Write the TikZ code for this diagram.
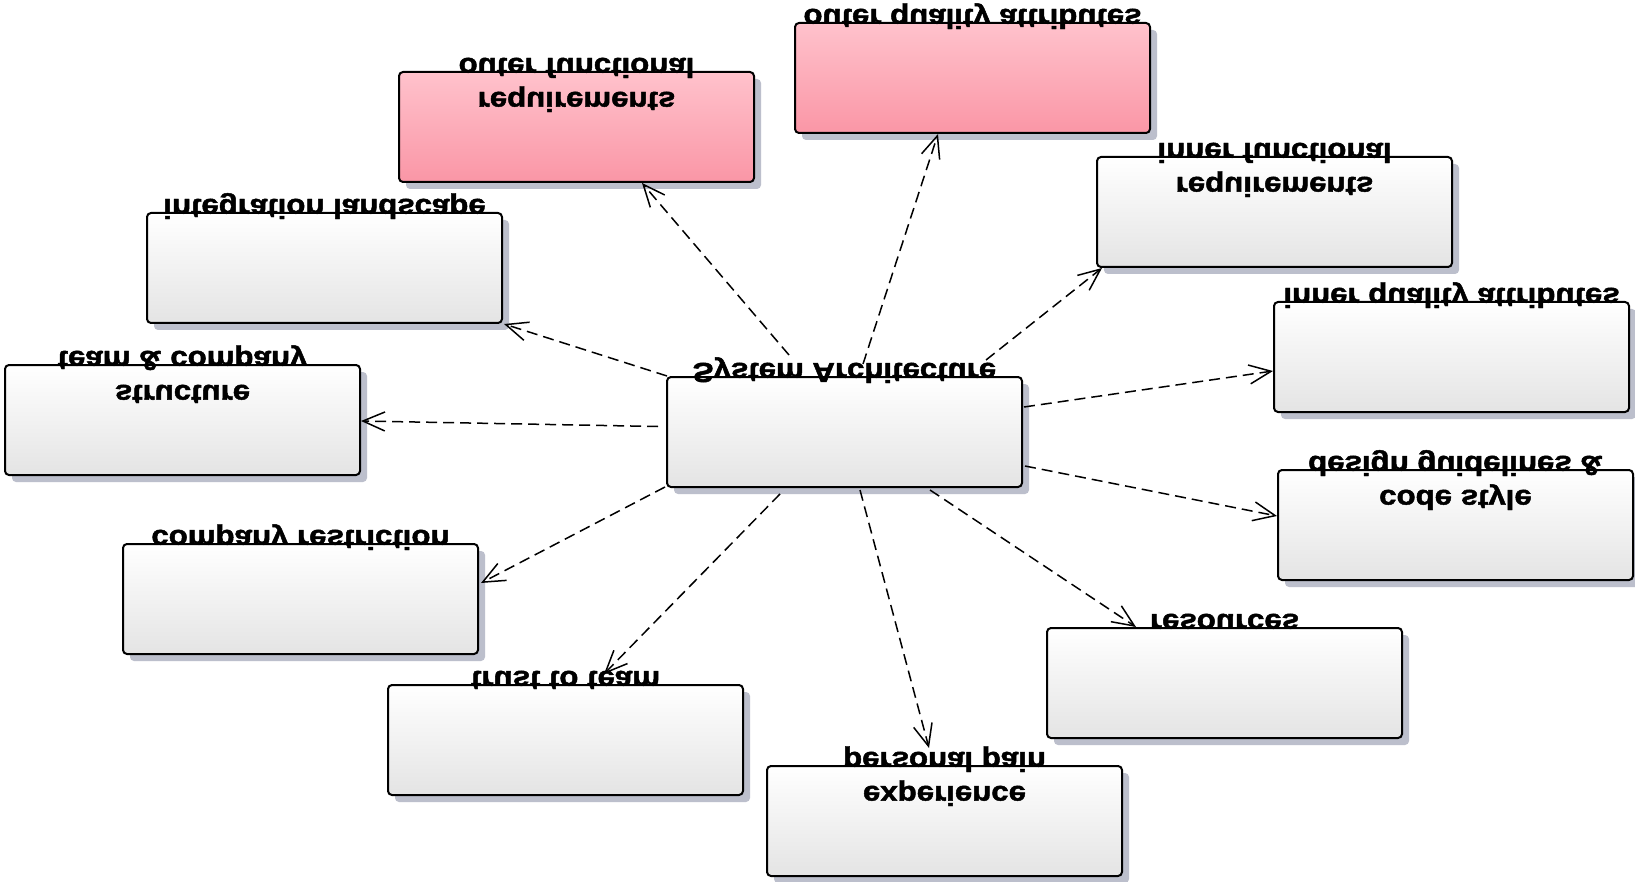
\documentclass[tikz,border=0pt]{standalone}
\usepackage{fontspec}
\setmainfont{Liberation Sans}
\newfontfamily\heavyfont{Liberation Sans Bold}[FakeBold=1.6]
\usetikzlibrary{arrows.meta,shadows}

\definecolor{shadowc}{RGB}{188,191,204}
\definecolor{pinktop}{RGB}{255,194,204}
\definecolor{pinkbot}{RGB}{250,150,166}
\definecolor{greybot}{RGB}{228,228,228}

% labels are printed upside down, line by line
\newcommand\fliptext[1]{\scalebox{1.04}[-0.92]{#1}}

\tikzset{
  box/.style={draw, line width=2pt, rounded corners=4pt,
    minimum width=355pt, minimum height=110pt, inner sep=0pt,
    top color=white, bottom color=greybot,
    drop shadow={shadow xshift=7pt, shadow yshift=-7pt, fill=shadowc, opacity=1}},
  reqbox/.style={box, top color=pinktop, bottom color=pinkbot},
  lbl/.style={anchor=base, inner sep=0pt, font=\fontsize{30}{36}\heavyfont},
  dep/.style={draw, line width=1.5pt, dash pattern=on 11pt off 6pt,
    -{Straight Barb[length=22pt, width=19pt, line width=1.5pt]}}
}

\begin{document}
\begin{tikzpicture}[x=1pt, y=-1pt]
  \fill[white] (0,0) rectangle (1635,882);
  \useasboundingbox (0,0) rectangle (1635,882);

  % boxes
  \node[reqbox] (fr) at (576.5,127) {};
  \node[reqbox] (oq) at (972.5,78) {};
  \node[box] (if) at (1274.5,212) {};
  \node[box] (il) at (324.5,268) {};
  \node[box] (tc) at (182.5,420) {};
  \node[box] (sa) at (844.5,432) {};
  \node[box] (iq) at (1451.5,357) {};
  \node[box] (dg) at (1455.5,525) {};
  \node[box] (cr) at (300.5,599) {};
  \node[box] (rs) at (1224.5,683) {};
  \node[box] (tt) at (565.5,740) {};
  \node[box] (pp) at (944.5,821) {};

  % labels, first line straddling the top edge
  \node[lbl] (fr-a) at ([yshift=13pt]fr.north) {\fliptext{outer functional}};
  \node[lbl] (fr-b) at ([yshift=-21pt]fr.north) {\fliptext{requirements}};
  \node[lbl] (oq-a) at ([yshift=13pt]oq.north) {\fliptext{outer quality attributes}};
  \node[lbl] (if-a) at ([yshift=13pt]if.north) {\fliptext{inner functional}};
  \node[lbl] (if-b) at ([yshift=-21pt]if.north) {\fliptext{requirements}};
  \node[lbl] (il-a) at ([yshift=13pt]il.north) {\fliptext{integration landscape}};
  \node[lbl] (tc-a) at ([yshift=13pt]tc.north) {\fliptext{team \& company}};
  \node[lbl] (tc-b) at ([yshift=-21pt]tc.north) {\fliptext{structure}};
  \node[lbl] (sa-a) at ([yshift=13pt]sa.north) {\fliptext{System Architecture}};
  \node[lbl] (iq-a) at ([yshift=13pt]iq.north) {\fliptext{inner quality attributes}};
  \node[lbl] (dg-a) at ([yshift=13pt]dg.north) {\fliptext{design guidelines \&}};
  \node[lbl] (dg-b) at ([yshift=-21pt]dg.north) {\fliptext{code style}};
  \node[lbl] (cr-a) at ([yshift=13pt]cr.north) {\fliptext{company restriction}};
  \node[lbl] (rs-a) at ([yshift=13pt]rs.north) {\fliptext{resources}};
  \node[lbl] (tt-a) at ([yshift=13pt]tt.north) {\fliptext{trust to team}};
  \node[lbl] (pp-a) at ([yshift=13pt]pp.north) {\fliptext{personal pain}};
  \node[lbl] (pp-b) at ([yshift=-21pt]pp.north) {\fliptext{experience}};

  % dependencies of the system architecture
  \draw[dep] ([xshift=-55.5pt,yshift=77pt]sa.center) -- ([xshift=244pt]fr.south west);
  \draw[dep] ([xshift=18.5pt,yshift=68pt]sa.center) -- ([xshift=144pt]oq.south west);
  \draw[dep] ([xshift=141.5pt,yshift=72pt]sa.center) -- ([xshift=6pt]if.south west);
  \draw[dep] ([xshift=179.5pt,yshift=25pt]sa.center) -- ([yshift=42pt]iq.south west);
  \draw[dep] ([xshift=180.5pt,yshift=-34pt]sa.center) -- ([yshift=-47pt]dg.north west);
  \draw[dep] ([xshift=85.5pt,yshift=-58pt]sa.center) -- ([xshift=90pt]rs.north west);
  \draw[dep] ([xshift=15.5pt,yshift=-58pt]sa.center) -- ([xshift=163pt,yshift=17pt]pp.north west);
  \draw[dep] ([xshift=-64.5pt,yshift=-62pt]sa.center) -- ([xshift=217pt,yshift=10pt]tt.north west);
  \draw[dep] ([xshift=-179.5pt,yshift=-55pt]sa.center) -- ([xshift=2pt,yshift=-40pt]cr.north east);
  \draw[dep] ([xshift=-186.5pt,yshift=5.5pt]sa.center) -- ([yshift=-57pt]tc.north east);
  \draw[dep] ([xshift=-177.5pt,yshift=56pt]sa.center) -- ([xshift=1pt]il.south east);
\end{tikzpicture}
\end{document}
